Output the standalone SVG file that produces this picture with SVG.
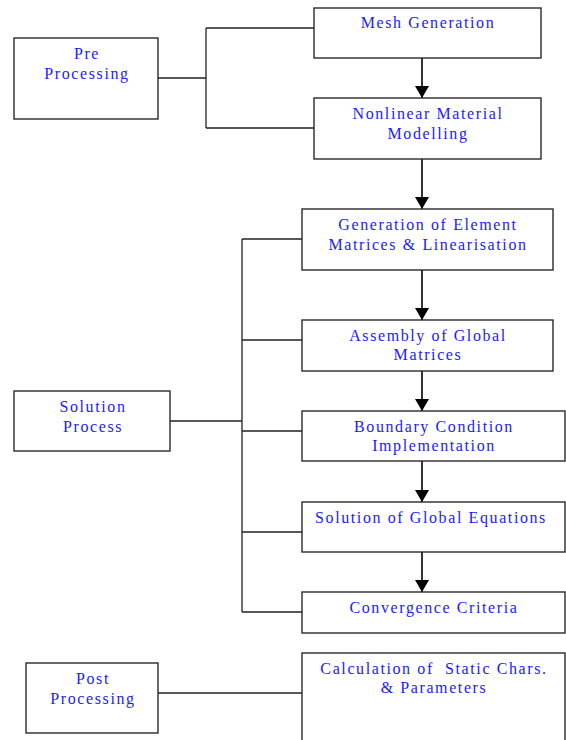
<svg xmlns="http://www.w3.org/2000/svg" width="566" height="740" viewBox="0 0 566 740">
<defs>
<style>
.box{fill:#fff;stroke:#2a2a2a;stroke-width:1.4}
.t{font-family:"Liberation Serif","Times New Roman",serif;font-size:16px;fill:#1a1aff;text-anchor:middle;letter-spacing:1.6px}
.c{fill:none;stroke:#222;stroke-width:1.3}
.a{fill:none;stroke:#000;stroke-width:1.6}
</style>
<marker id="ah" markerUnits="userSpaceOnUse" markerWidth="12" markerHeight="14" viewBox="0 0 12 14" refX="12" refY="7" orient="auto">
<path d="M0,0 L12,7 L0,14 Z" fill="#000"/>
</marker>
</defs>
<rect width="566" height="740" fill="#fff"/>
<g id="connectors">
<path class="c" d="M158,78 H206 M206,28 V128 M206,28 H314 M206,128 H314"/>
<path class="c" d="M170,421 H242 M242,239 V612 M242,239 H302 M242,340 H302 M242,431 H302 M242,532 H302 M242,612 H302"/>
<path class="c" d="M158,693 H302"/>
<line class="a" x1="422" y1="58" x2="422" y2="98" marker-end="url(#ah)"/>
<line class="a" x1="422" y1="159" x2="422" y2="209" marker-end="url(#ah)"/>
<line class="a" x1="422" y1="270" x2="422" y2="320" marker-end="url(#ah)"/>
<line class="a" x1="422" y1="371" x2="422" y2="411" marker-end="url(#ah)"/>
<line class="a" x1="422" y1="461" x2="422" y2="502" marker-end="url(#ah)"/>
<line class="a" x1="422" y1="552" x2="422" y2="592" marker-end="url(#ah)"/>
</g>
<g id="pre">
<rect class="box" x="14" y="38" width="144" height="81"/>
<text class="t" x="87" y="59">Pre</text>
<text class="t" x="87" y="79">Processing</text>
</g>
<g id="mesh">
<rect class="box" x="314" y="8" width="227" height="50"/>
<text class="t" x="428" y="28">Mesh Generation</text>
</g>
<g id="nonlinear">
<rect class="box" x="314" y="98" width="227" height="61"/>
<text class="t" x="428" y="119">Nonlinear Material</text>
<text class="t" x="428" y="139">Modelling</text>
</g>
<g id="element">
<rect class="box" x="302" y="209" width="251" height="61"/>
<text class="t" x="428" y="230">Generation of Element</text>
<text class="t" x="428" y="250">Matrices &amp; Linearisation</text>
</g>
<g id="assembly">
<rect class="box" x="302" y="320" width="251" height="51"/>
<text class="t" x="428" y="341">Assembly of Global</text>
<text class="t" x="428" y="360">Matrices</text>
</g>
<g id="solution-process">
<rect class="box" x="14" y="391" width="156" height="60"/>
<text class="t" x="93" y="412">Solution</text>
<text class="t" x="93" y="432">Process</text>
</g>
<g id="boundary">
<rect class="box" x="302" y="411" width="263" height="50"/>
<text class="t" x="434" y="432">Boundary Condition</text>
<text class="t" x="434" y="451">Implementation</text>
</g>
<g id="global-eq">
<rect class="box" x="302" y="502" width="263" height="50"/>
<text class="t" x="431" y="523">Solution of Global Equations</text>
</g>
<g id="convergence">
<rect class="box" x="302" y="592" width="263" height="41"/>
<text class="t" x="434" y="613">Convergence Criteria</text>
</g>
<g id="post">
<rect class="box" x="26" y="663" width="132" height="70"/>
<text class="t" x="93" y="684">Post</text>
<text class="t" x="93" y="704">Processing</text>
</g>
<g id="calculation">
<rect class="box" x="302" y="653" width="263" height="100"/>
<text class="t" x="434" y="674" style="white-space:pre">Calculation of  Static Chars.</text>
<text class="t" x="434" y="693">&amp; Parameters</text>
</g>
</svg>
